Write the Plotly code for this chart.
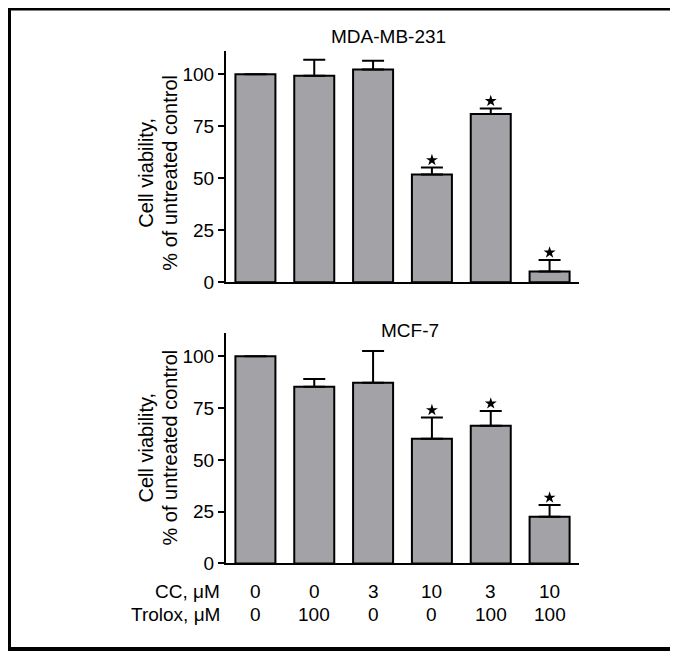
import plotly.graph_objects as go

W, H = 678, 654

# ---- data ----
cc_uM = ["0", "0", "3", "10", "3", "10"]
trolox_uM = ["0", "100", "0", "0", "100", "100"]

mda_mean = [100, 99.2, 102.2, 51.8, 80.8, 5.2]
mda_err = [0, 7.7, 4.2, 3.3, 2.7, 5.5]
mda_sig = [False, False, False, True, True, True]

mcf_mean = [100, 85.3, 87.2, 60.2, 66.5, 22.5]
mcf_err = [0, 3.7, 15.3, 10.2, 7.1, 5.7]
mcf_sig = [False, False, False, True, True, True]

panel_titles = ["MDA-MB-231", "MCF-7"]
y_ticks = [0, 25, 50, 75, 100]

FONT = "Arial, Liberation Sans, Helvetica, sans-serif"
BAR = "#a2a2a7"
xpos = list(range(len(cc_uM)))

def px_x(p):
    return p / W

def px_y(p):
    return 1 - p / H

fig = go.Figure()

for i, (mean, err, sig) in enumerate([(mda_mean, mda_err, mda_sig),
                                      (mcf_mean, mcf_err, mcf_sig)]):
    xa = "x" if i == 0 else "x2"
    ya = "y" if i == 0 else "y2"
    fig.add_trace(go.Bar(
        x=xpos, y=mean, width=0.68, xaxis=xa, yaxis=ya,
        marker=dict(color=BAR, line=dict(color="black", width=2)),
        error_y=dict(type="data", array=err, arrayminus=[0] * len(err),
                     symmetric=False, color="black", thickness=2, width=11),
        showlegend=False, hoverinfo="skip",
    ))
    sx = [x for x, s in zip(xpos, sig) if s]
    sy = [m + e + 3.6 for m, e, s in zip(mean, err, sig) if s]
    fig.add_trace(go.Scatter(
        x=sx, y=sy, mode="markers", xaxis=xa, yaxis=ya,
        marker=dict(symbol="star", size=9, color="black", line=dict(width=0)),
        showlegend=False, hoverinfo="skip",
    ))

xdom = [px_x(218), px_x(571)]
axis_common_x = dict(range=[-0.5, 5.5], showgrid=False, zeroline=False,
                     showline=True, linecolor="black", linewidth=2,
                     ticks="", showticklabels=False, fixedrange=True)
axis_common_y = dict(range=[0, 111], showgrid=False, zeroline=False,
                     showline=True, linecolor="black", linewidth=2,
                     ticks="outside", ticklen=6, tickwidth=2, tickcolor="black",
                     tickvals=y_ticks, tickfont=dict(family=FONT, size=19, color="black"),
                     fixedrange=True)

fig.update_layout(
    width=W, height=H,
    margin=dict(l=0, r=0, t=0, b=0),
    paper_bgcolor="white", plot_bgcolor="white",
    font=dict(family=FONT, color="black"),
    xaxis=dict(domain=xdom, anchor="y", **axis_common_x),
    yaxis=dict(domain=[px_y(279), px_y(44)], anchor="x", **axis_common_y),
    xaxis2=dict(domain=xdom, anchor="y2", **axis_common_x),
    yaxis2=dict(domain=[px_y(565), px_y(331)], anchor="x2", **axis_common_y),
    bargap=0.3,
)

ann = []
# panel titles
ann.append(dict(text=panel_titles[0], xref="paper", yref="paper",
                x=px_x(380), y=px_y(28.5), showarrow=False,
                xanchor="center", yanchor="middle",
                font=dict(family=FONT, size=19, color="black")))
ann.append(dict(text=panel_titles[1], xref="paper", yref="paper",
                x=px_x(401.5), y=px_y(328), showarrow=False,
                xanchor="center", yanchor="middle",
                font=dict(family=FONT, size=19, color="black")))
# y-axis titles
for cy in (167.5, 447):
    ann.append(dict(text="Cell viability,", xref="paper", yref="paper",
                    x=px_x(138), y=px_y(cy), showarrow=False, textangle=-90,
                    xanchor="center", yanchor="middle",
                    font=dict(family=FONT, size=20, color="black")))
    ann.append(dict(text="% of untreated control", xref="paper", yref="paper",
                    x=px_x(162), y=px_y(cy), showarrow=False, textangle=-90,
                    xanchor="center", yanchor="middle",
                    font=dict(family=FONT, size=20, color="black")))
# bottom rows
rows = [("CC, \u03bcM", cc_uM, 593), ("Trolox, \u03bcM", trolox_uM, 617)]
for label, vals, ypx in rows:
    ann.append(dict(text=label, xref="paper", yref="paper",
                    x=px_x(214), y=px_y(ypx), showarrow=False,
                    xanchor="right", yanchor="middle",
                    font=dict(family=FONT, size=19, color="black")))
    for xv, v in zip(xpos, vals):
        ann.append(dict(text=v, xref="x2", yref="paper",
                        x=xv, y=px_y(ypx), showarrow=False,
                        xanchor="center", yanchor="middle",
                        font=dict(family=FONT, size=19, color="black")))
fig.update_layout(annotations=ann)

# frame border
shapes = [
    dict(type="rect", xref="paper", yref="paper", x0=0, x1=px_x(3), y0=0, y1=1,
         fillcolor="black", line=dict(width=0)),
    dict(type="rect", xref="paper", yref="paper", x0=0, x1=1, y0=px_y(2.5), y1=1,
         fillcolor="black", line=dict(width=0)),
    dict(type="rect", xref="paper", yref="paper", x0=px_x(674), x1=1, y0=0, y1=1,
         fillcolor="black", line=dict(width=0)),
    dict(type="rect", xref="paper", yref="paper", x0=0, x1=1, y0=0, y1=px_y(650),
         fillcolor="black", line=dict(width=0)),
]
fig.update_layout(shapes=shapes)

fig.write_html("out.html")
